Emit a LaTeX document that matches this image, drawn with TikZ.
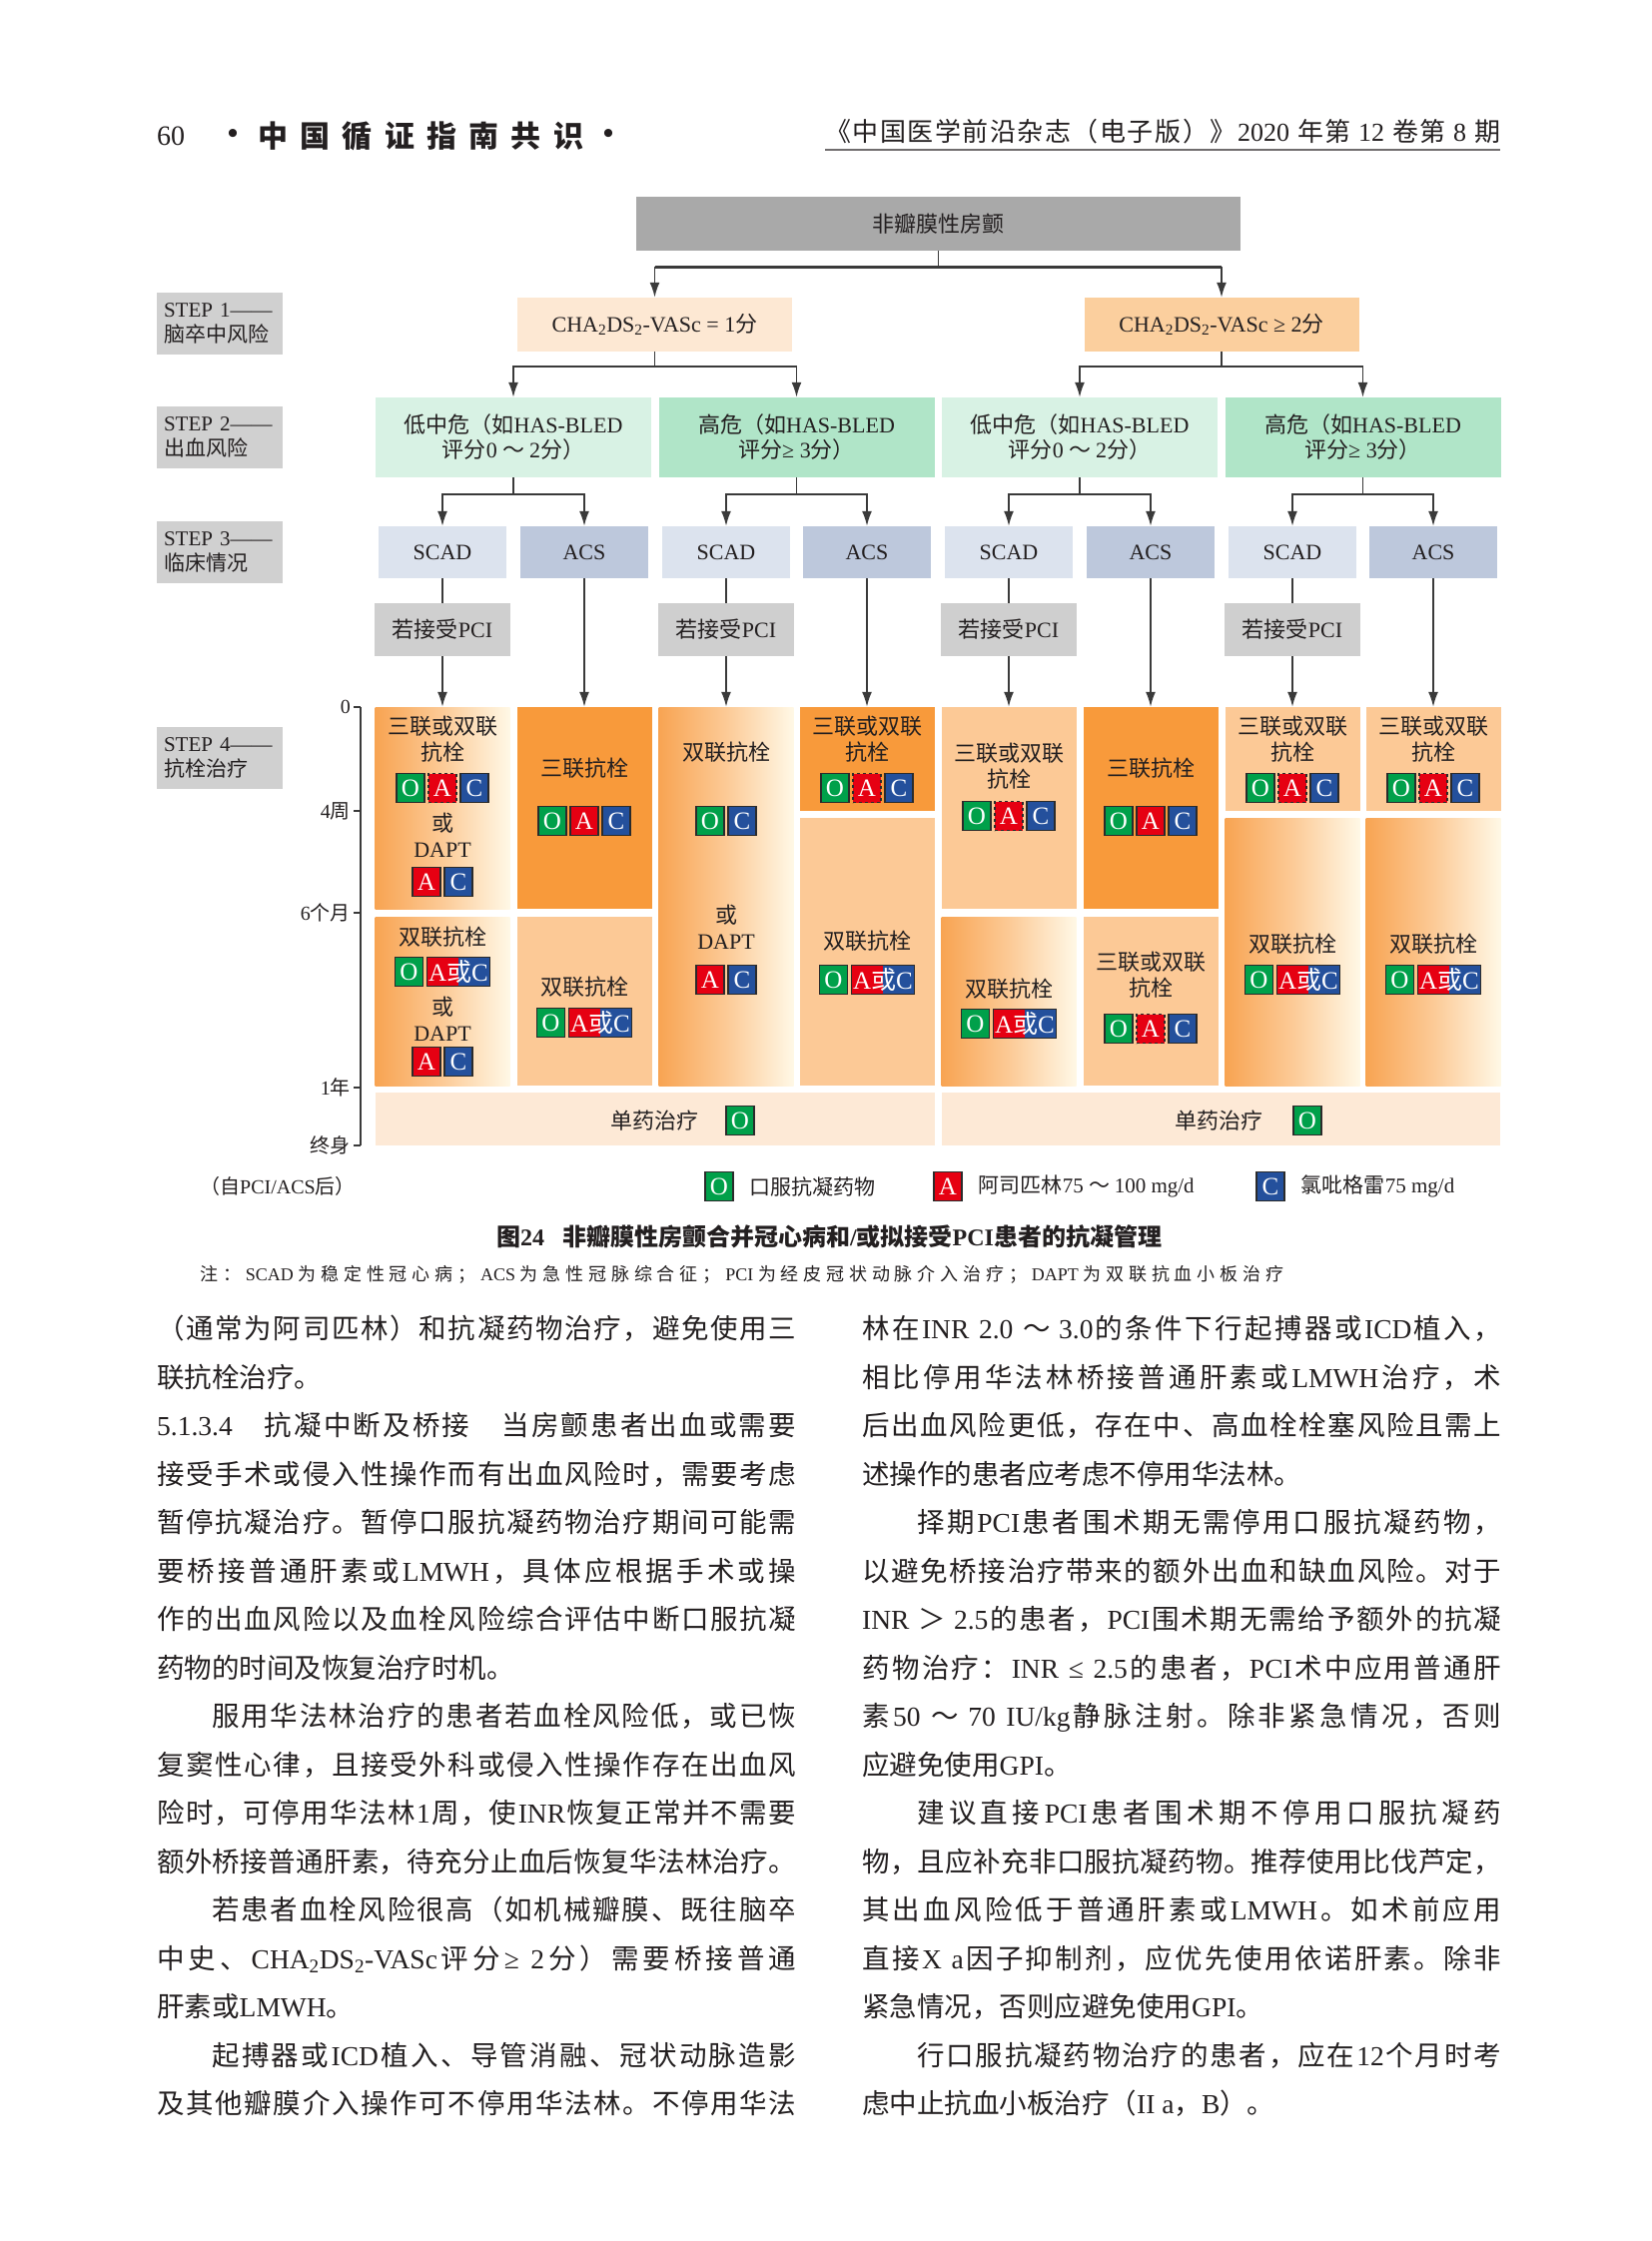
\documentclass[tikz,border=0pt]{standalone}
\usepackage{fontspec}
\setmainfont{Liberation Serif}
\newfontfamily\lat{Liberation Serif}
\newfontfamily\cjk{Noto Sans CJK SC}
\usetikzlibrary{arrows.meta, positioning}

% han characters pick the CJK font, everything else Liberation Serif
\XeTeXinterchartokenstate=1
\newcount\cjkcode
\cjkcode="3000 \loop \XeTeXcharclass\cjkcode=1 \advance\cjkcode by 1 \ifnum\cjkcode<"3040 \repeat
\cjkcode="4E00 \loop \XeTeXcharclass\cjkcode=1 \advance\cjkcode by 1 \ifnum\cjkcode<"A000 \repeat
\cjkcode="FF00 \loop \XeTeXcharclass\cjkcode=1 \advance\cjkcode by 1 \ifnum\cjkcode<"FFF0 \repeat
\XeTeXinterchartoks 0 1 = {\hskip 0pt plus 3pt\relax\cjk}
\XeTeXinterchartoks 4095 1 = {\cjk}
\XeTeXinterchartoks 1 1 = {\hskip 0pt plus 3pt\relax}
\XeTeXinterchartoks 1 0 = {\hskip 0pt plus 3pt\relax\lat}
\XeTeXinterchartoks 4095 0 = {\lat}

\definecolor{ink}{HTML}{231F20}
\definecolor{lineGray}{HTML}{3A3A3A}
\definecolor{topGray}{HTML}{A9A9A9}
\definecolor{stepGray}{HTML}{D0D0D0}
\definecolor{pciGray}{HTML}{CFCFCF}
\definecolor{chaLight}{HTML}{FDE8D3}
\definecolor{chaPeach}{HTML}{FBCF9E}
\definecolor{bleedLow}{HTML}{D8F2E4}
\definecolor{bleedHigh}{HTML}{B0E5C8}
\definecolor{scadBlue}{HTML}{DCE3EE}
\definecolor{acsBlue}{HTML}{BDC8DC}
\definecolor{cellSolid}{HTML}{F89A3B}
\definecolor{cellLight}{HTML}{FCC996}
\definecolor{gradLeft}{HTML}{F8A452}
\definecolor{gradMid}{HTML}{FCCA96}
\definecolor{gradRight}{HTML}{FFF8E6}
\definecolor{monoFill}{HTML}{FDE9D6}
\definecolor{drugO}{HTML}{00A04A}
\definecolor{drugA}{HTML}{E60012}
\definecolor{drugC}{HTML}{24509C}
\definecolor{badgeLine}{HTML}{2B2B2B}

\tikzset{
  conn/.style={draw=lineGray, line width=1.8pt},
  arr/.style={conn, -{Latex[length=15pt, width=10pt]}},
  box/.style={inner sep=0pt, text=ink, align=center, font=\fontsize{22}{26}\selectfont},
  topbox/.style={box, fill=topGray, minimum width=605pt, minimum height=54pt},
  stepbox/.style={box, fill=stepGray, minimum height=62pt, text width=112pt,
    inner xsep=7pt, align=left, font=\fontsize{21}{25}\selectfont},
  chabox/.style={box, minimum width=275pt, minimum height=54pt},
  bleedbox/.style={box, minimum width=276pt, minimum height=80pt, font=\fontsize{22}{25}\selectfont},
  clinbox/.style={box, minimum width=128pt, minimum height=52pt},
  pcibox/.style={box, fill=pciGray, minimum width=136pt, minimum height=53pt},
  cell/.style={inner sep=0pt, minimum width=135pt},
  cellsolid/.style={cell, fill=cellSolid},
  celllight/.style={cell, fill=cellLight},
  cellgrad/.style={cell, left color=gradLeft, right color=gradRight, middle color=gradMid},
  badge/.style={draw=badgeLine, line width=1.3pt, inner sep=0pt, minimum width=28pt,
    minimum height=29pt, text=white, font=\fontsize{25}{25}\selectfont},
  badgeO/.style={badge, fill=drugO},
  badgeA/.style={badge, fill=drugA},
  badgeAd/.style={badge, fill=drugA, dashed},
  badgeC/.style={badge, fill=drugC},
  badgeAC/.style={badge, fill=drugA, minimum width=63pt,
    path picture={\fill[drugC] (path picture bounding box.north) rectangle (path picture bounding box.south east);}},
  bodytxt/.style={anchor=base west, inner sep=0pt, text=ink, font=\fontsize{27.5}{30}\selectfont},
}

% drug badge groups
\newcommand{\drugOAC}[4]{%
  \node[badgeO] (#1o) at (#2-32,#3) {O};
  \node[#4] (#1a) at (#2,#3) {A};
  \node[badgeC] (#1c) at (#2+32,#3) {C};}
\newcommand{\drugOAorC}[3]{%
  \node[badgeO] (#1o) at (#2-33.5,#3) {O};
  \node[badgeAC] (#1ac) at (#2+16,#3) {A或C};}
\newcommand{\drugPair}[5]{%
  \node[badge#4] (#1l) at (#2-16,#3) {#4};
  \node[badge#5] (#1r) at (#2+16,#3) {#5};}
\newcommand{\fullline}[1]{\makebox[640pt][s]{#1}}
\newcommand{\indentline}[1]{\makebox[640pt][s]{\hspace{55pt}#1}}

\begin{document}
\begin{tikzpicture}[x=1pt, y=-1pt]
  \fill[white] (0,0) rectangle (1654,2244);
  \useasboundingbox (0,0) rectangle (1654,2244);

  % running head
  \node[box, anchor=west, font=\fontsize{28}{28}\selectfont] (hdpage) at (157,136) {60};
  \node[box, font=\fontsize{30}{30}\selectfont\bfseries] (hdbulL) at (233,136) {•};
  \node[box, anchor=west, font=\fontsize{30}{30}\selectfont\bfseries] (hdtitle) at (258,136) {\makebox[326pt][s]{中国循证指南共识}};
  \node[box, font=\fontsize{30}{30}\selectfont\bfseries] (hdbulR) at (609,136) {•};
  \node[box, anchor=west, font=\fontsize{26}{26}\selectfont] (hdjournal) at (826,132) {\makebox[676pt][s]{《中国医学前沿杂志（电子版）》2020 年第 12 卷第 8 期}};
  \draw[ink!65, line width=1.6pt] (826,150) -- (1502,150);

  % steps
  \node[stepbox] (step1) at (220,324) {STEP 1——\\脑卒中风险};
  \node[stepbox] (step2) at (220,438) {STEP 2——\\出血风险};
  \node[stepbox] (step3) at (220,553) {STEP 3——\\临床情况};
  \node[stepbox] (step4) at (220,759) {STEP 4——\\抗栓治疗};

  % tree
  \node[topbox] (top) at (939.5,224) {非瓣膜性房颤};
  \node[chabox, fill=chaLight] (chaL) at (655.5,325) {CHA\textsubscript{2}DS\textsubscript{2}-VASc = 1分};
  \node[chabox, fill=chaPeach] (chaR) at (1223,325) {CHA\textsubscript{2}DS\textsubscript{2}-VASc ≥ 2分};

  \node[bleedbox, fill=bleedLow] (bleedL1) at (514,438) {低中危（如HAS-BLED\\评分0 ～ 2分）};
  \node[bleedbox, fill=bleedHigh] (bleedH1) at (797.5,438) {高危（如HAS-BLED\\评分≥ 3分）};
  \node[bleedbox, fill=bleedLow] (bleedL2) at (1081,438) {低中危（如HAS-BLED\\评分0 ～ 2分）};
  \node[bleedbox, fill=bleedHigh] (bleedH2) at (1364.5,438) {高危（如HAS-BLED\\评分≥ 3分）};

  \foreach \i/\x in {1/443,2/727,3/1010,4/1294} {
    \node[clinbox, fill=scadBlue] (scad\i) at (\x,553) {SCAD};
    \node[pcibox] (pci\i) at (\x,630.5) {若接受PCI};
  }
  \foreach \i/\x in {1/585,2/868,3/1152,4/1435}
    \node[clinbox, fill=acsBlue] (acs\i) at (\x,553) {ACS};

  % treatment cells
  \node[cellgrad, minimum height=202pt] (c1a) at (443,809) {};
  \node[cellgrad, minimum height=169pt] (c1b) at (443,1002.5) {};
  \node[cellsolid, minimum height=202pt] (c2a) at (585,809) {};
  \node[celllight, minimum height=169pt] (c2b) at (585,1002.5) {};
  \node[cellgrad, minimum height=379pt] (c3) at (727,897.5) {};
  \node[cellsolid, minimum height=104pt] (c4a) at (868,760) {};
  \node[celllight, minimum height=268pt] (c4b) at (868,953) {};
  \node[celllight, minimum height=202pt] (c5a) at (1010,809) {};
  \node[cellgrad, minimum height=169pt] (c5b) at (1010,1002.5) {};
  \node[cellsolid, minimum height=202pt] (c6a) at (1152,809) {};
  \node[celllight, minimum height=169pt] (c6b) at (1152,1002.5) {};
  \node[celllight, minimum height=104pt] (c7a) at (1294,760) {};
  \node[cellgrad, minimum height=268pt] (c7b) at (1294,953) {};
  \node[celllight, minimum height=104pt] (c8a) at (1435,760) {};
  \node[cellgrad, minimum height=268pt] (c8b) at (1435,953) {};
  \node[cell, fill=monoFill, minimum width=560pt, minimum height=53pt] (monoL) at (656,1120.5) {};
  \node[cell, fill=monoFill, minimum width=559pt, minimum height=53pt] (monoR) at (1222.5,1120.5) {};

  % connectors
  \draw[conn] (top.south) -- ++(0,16) coordinate (bus0);
  \draw[conn, line width=3.2pt] (bus0 -| chaL) -- (bus0 -| chaR);
  \foreach \n in {chaL,chaR} \draw[arr] (bus0 -| \n) -- (\n);
  \foreach \c/\a/\b in {chaL/bleedL1/bleedH1, chaR/bleedL2/bleedH2} {
    \draw[conn] (\c.south) -- ++(0,15) coordinate (bus\c);
    \draw[arr] (bus\c) -| (\a.north);
    \draw[arr] (bus\c) -| (\b.north);
  }
  \foreach \b/\i in {bleedL1/1, bleedH1/2, bleedL2/3, bleedH2/4} {
    \draw[conn] (\b.south) -- ++(0,17) coordinate (bus\i);
    \draw[arr] (bus\i) -| (scad\i.north);
    \draw[arr] (bus\i) -| (acs\i.north);
  }
  \foreach \i/\c in {1/c1a, 2/c3, 3/c5a, 4/c7a} {
    \draw[conn] (scad\i) -- (pci\i);
    \draw[arr] (pci\i) -- (\c);
  }
  \foreach \i/\c in {1/c2a, 2/c4a, 3/c6a, 4/c8a}
    \draw[arr] (acs\i) -- (\c);

  % column 1
  \node[box] (t1a) at (443,740) {三联或双联\\抗栓};
  \drugOAC{b1a}{443}{789}{badgeAd}
  \node[box] (t1a2) at (443,836) {或\\DAPT};
  \drugPair{b1a2}{443}{883}{A}{C}
  \node[box] (t1b) at (443,938) {双联抗栓};
  \drugOAorC{b1b}{443}{973}
  \node[box] (t1b2) at (443,1020) {或\\DAPT};
  \drugPair{b1b2}{443}{1063}{A}{C}
  % column 2
  \node[box] (t2a) at (585,769) {三联抗栓};
  \drugOAC{b2a}{585}{822}{badgeA}
  \node[box] (t2b) at (585,988) {双联抗栓};
  \drugOAorC{b2b}{585}{1024}
  % column 3
  \node[box] (t3) at (727,753) {双联抗栓};
  \drugPair{b3}{727}{822}{O}{C}
  \node[box] (t3b) at (727,928) {或\\DAPT};
  \drugPair{b3b}{727}{981}{A}{C}
  % column 4
  \node[box] (t4a) at (868,740) {三联或双联\\抗栓};
  \drugOAC{b4a}{868}{789}{badgeAd}
  \node[box] (t4b) at (868,942) {双联抗栓};
  \drugOAorC{b4b}{868}{981}
  % column 5
  \node[box] (t5a) at (1010,767.5) {三联或双联\\抗栓};
  \drugOAC{b5a}{1010}{817}{badgeAd}
  \node[box] (t5b) at (1010,990) {双联抗栓};
  \drugOAorC{b5b}{1010}{1025}
  % column 6
  \node[box] (t6a) at (1152,769) {三联抗栓};
  \drugOAC{b6a}{1152}{822}{badgeA}
  \node[box] (t6b) at (1152,976.5) {三联或双联\\抗栓};
  \drugOAC{b6b}{1152}{1030}{badgeAd}
  % columns 7 and 8
  \foreach \k/\x in {7/1294, 8/1435} {
    \node[box] (t\k-a) at (\x,740) {三联或双联\\抗栓};
    \drugOAC{b\k-a}{\x}{789}{badgeAd}
    \node[box] (t\k-b) at (\x,945) {双联抗栓};
    \drugOAorC{b\k-b}{\x}{981}
  }
  % monotherapy
  \node[box] (tmL) at (655,1122) {单药治疗};
  \node[badgeO] (bmL) at (741,1122) {O};
  \node[box] (tmR) at (1220,1122) {单药治疗};
  \node[badgeO] (bmR) at (1309,1122) {O};

  % time axis
  \draw[conn, line width=1.5pt] (361,708) -- (361,1147);
  \foreach \y/\t [count=\k] in {708/0, 812/4周, 914/6个月, 1089/1年, 1147/终身} {
    \draw[conn, line width=1.5pt] (354,\y) -- (361,\y);
    \node[box, anchor=east, font=\fontsize{20}{20}\selectfont] (tick\k) at (351,\y) {\t};
  }
  \node[box, anchor=west, font=\fontsize{20}{20}\selectfont] (axnote) at (200,1188) {（自PCI/ACS后）};

  % legend
  \node[badgeO] (lgO) at (720,1188) {O};
  \node[box, right=16pt of lgO, font=\fontsize{21}{21}\selectfont] (lgOt) {口服抗凝药物};
  \node[badgeA] (lgA) at (949,1188) {A};
  \node[box, right=16pt of lgA, font=\fontsize{21}{21}\selectfont] (lgAt) {阿司匹林75 ～ 100 mg/d};
  \node[badgeC] (lgC) at (1272,1188) {C};
  \node[box, right=16pt of lgC, font=\fontsize{21}{21}\selectfont] (lgCt) {氯吡格雷75 mg/d};

  % caption and note
  \node[box, font=\fontsize{24}{24}\selectfont\bfseries] (caption) at (830,1238) {图24\hspace{18pt}非瓣膜性房颤合并冠心病和/或拟接受PCI患者的抗凝管理};
  \node[box, anchor=west, font=\fontsize{18}{18}\selectfont] (note) at (200,1276) {\makebox[1085pt][s]{注：SCAD为稳定性冠心病；ACS为急性冠脉综合征；PCI为经皮冠状动脉介入治疗；DAPT为双联抗血小板治疗}};

  % body text, left column
  \foreach \txt [count=\i from 0] in {
    {\fullline{（通常为阿司匹林）和抗凝药物治疗，避免使用三}},
    {联抗栓治疗。},
    {\fullline{5.1.3.4　抗凝中断及桥接　当房颤患者出血或需要}},
    {\fullline{接受手术或侵入性操作而有出血风险时，需要考虑}},
    {\fullline{暂停抗凝治疗。暂停口服抗凝药物治疗期间可能需}},
    {\fullline{要桥接普通肝素或LMWH，具体应根据手术或操}},
    {\fullline{作的出血风险以及血栓风险综合评估中断口服抗凝}},
    {药物的时间及恢复治疗时机。},
    {\indentline{服用华法林治疗的患者若血栓风险低，或已恢}},
    {\fullline{复窦性心律，且接受外科或侵入性操作存在出血风}},
    {\fullline{险时，可停用华法林1周，使INR恢复正常并不需要}},
    {\fullline{额外桥接普通肝素，待充分止血后恢复华法林治疗。}},
    {\indentline{若患者血栓风险很高（如机械瓣膜、既往脑卒}},
    {\fullline{中史、CHA\textsubscript{2}DS\textsubscript{2}-VASc评分≥ 2分）需要桥接普通}},
    {肝素或LMWH。},
    {\indentline{起搏器或ICD植入、导管消融、冠状动脉造影}},
    {\fullline{及其他瓣膜介入操作可不停用华法林。不停用华法}}}
    \node[bodytxt] (colA\i) at (157,1340.5+48.5*\i) {\txt};

  % body text, right column
  \foreach \txt [count=\i from 0] in {
    {\fullline{林在INR 2.0 ～ 3.0的条件下行起搏器或ICD植入，}},
    {\fullline{相比停用华法林桥接普通肝素或LMWH治疗，术}},
    {\fullline{后出血风险更低，存在中、高血栓栓塞风险且需上}},
    {述操作的患者应考虑不停用华法林。},
    {\indentline{择期PCI患者围术期无需停用口服抗凝药物，}},
    {\fullline{以避免桥接治疗带来的额外出血和缺血风险。对于}},
    {\fullline{INR ＞ 2.5的患者，PCI围术期无需给予额外的抗凝}},
    {\fullline{药物治疗：INR ≤ 2.5的患者，PCI术中应用普通肝}},
    {\fullline{素50 ～ 70 IU/kg静脉注射。除非紧急情况，否则}},
    {应避免使用GPI。},
    {\indentline{建议直接PCI患者围术期不停用口服抗凝药}},
    {\fullline{物，且应补充非口服抗凝药物。推荐使用比伐芦定，}},
    {\fullline{其出血风险低于普通肝素或LMWH。如术前应用}},
    {\fullline{直接X a因子抑制剂，应优先使用依诺肝素。除非}},
    {紧急情况，否则应避免使用GPI。},
    {\indentline{行口服抗凝药物治疗的患者，应在12个月时考}},
    {虑中止抗血小板治疗（II a，B）。}}
    \node[bodytxt] (colB\i) at (863,1340.5+48.5*\i) {\txt};
\end{tikzpicture}
\end{document}
